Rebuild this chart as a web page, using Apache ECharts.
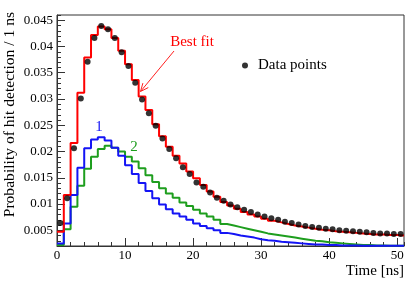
<!DOCTYPE html>
<html><head><meta charset="utf-8">
<script src="https://cdn.jsdelivr.net/npm/echarts@6/dist/echarts.min.js"></script>
<style>html,body{margin:0;padding:0;background:#fff}#c{width:415px;height:287px}</style>
</head><body><div id="c"></div>
<script>
// ---- data (1 ns bins starting at 0 ns) ----
const binStart = 0;
const binWidth = 1;
const dataPoints = [
  0.0064, 0.0111, 0.0206, 0.0301, 0.0371, 0.0416, 0.0439, 0.0433, 0.0416, 0.0389,
  0.0363, 0.0331, 0.0299, 0.0273, 0.0249, 0.0225, 0.0205, 0.0187, 0.0170, 0.0157,
  0.0141, 0.0133, 0.0122, 0.0112, 0.0106, 0.0099, 0.0094, 0.0089, 0.0085, 0.0080,
  0.0076, 0.0073, 0.0070, 0.0066, 0.0064, 0.0061, 0.0058, 0.0056, 0.0055, 0.0053,
  0.0052, 0.0050, 0.0049, 0.0048, 0.0047, 0.0046, 0.0045, 0.0044, 0.0044, 0.0043, 0.0043
];
const bestFit = [
  0.0047, 0.0117, 0.0216, 0.0312, 0.0379, 0.0422, 0.0438, 0.0433, 0.0416, 0.0392,
  0.0366, 0.0336, 0.0305, 0.0279, 0.0252, 0.0229, 0.0209, 0.0192, 0.0177, 0.0162,
  0.0149, 0.0136, 0.0124, 0.0114, 0.0104, 0.0097, 0.0091, 0.0085, 0.0080, 0.0076,
  0.0072, 0.0068, 0.0065, 0.0062, 0.0059, 0.0057, 0.0055, 0.0053, 0.0051, 0.0050,
  0.0048, 0.0047, 0.0046, 0.0045, 0.0044, 0.0043, 0.0042, 0.0042, 0.0041, 0.0041, 0.0040
];
const component1 = [
  0.0025, 0.0063, 0.0117, 0.0169, 0.0206, 0.0223, 0.0227, 0.0221, 0.0207, 0.0192,
  0.0174, 0.0157, 0.0140, 0.0125, 0.0111, 0.0099, 0.0090, 0.0082, 0.0076, 0.0070,
  0.0063, 0.0058, 0.0054, 0.0050, 0.0045, 0.0043, 0.0040, 0.0038, 0.0036, 0.0033,
  0.0031, 0.0030, 0.0028, 0.0027, 0.0026, 0.0025, 0.0024, 0.0023, 0.0023, 0.0022,
  0.0022, 0.0021, 0.0021, 0.0021, 0.00205, 0.00205, 0.00205, 0.00205, 0.00205, 0.00205, 0.00205
];
const component2 = [
  0.0022, 0.0052, 0.0095, 0.0135, 0.0167, 0.0190, 0.0205, 0.0211, 0.0207, 0.0200,
  0.0190, 0.0181, 0.0168, 0.0155, 0.0142, 0.0130, 0.0120, 0.0112, 0.0103, 0.0096,
  0.0089, 0.0082, 0.0076, 0.0070, 0.0062, 0.0059, 0.0056, 0.0053, 0.0050, 0.0047,
  0.0044, 0.0042, 0.0040, 0.0038, 0.0036, 0.0034, 0.0032, 0.0030, 0.0029, 0.0027,
  0.0026, 0.0025, 0.0024, 0.0023, 0.0022, 0.0022, 0.0021, 0.0021, 0.00205, 0.00205, 0.00205
];
const xTickLabels = ['0', '10', '20', '30', '40', '50'];
const yTickLabels = ['0.005', '0.01', '0.015', '0.02', '0.025', '0.03', '0.035', '0.04', '0.045'];

// ---- helpers ----
const FONT = '"Liberation Serif", "Times New Roman", serif';
const xMajor = xTickLabels.map(Number);
const yMajor = yTickLabels.map(Number);
function stepData(arr) {
  const d = arr.map((v, i) => [binStart + i * binWidth, v]);
  d.push([binStart + arr.length * binWidth, arr[arr.length - 1]]);
  return d;
}
const pointData = dataPoints.map((v, i) => [binStart + (i + 0.5) * binWidth, v]);
const lineCol = '#333';

const chart = echarts.init(document.getElementById('c'), null, {renderer: 'canvas'});

const arrowTip = [140.5, 91.5], arrowTail = [174, 51];
const dx = arrowTail[0] - arrowTip[0], dy = arrowTail[1] - arrowTip[1];
const L = Math.hypot(dx, dy), ux = dx / L, uy = dy / L;
const hl = 8, hw = 3.5;
const headPts = [
  [arrowTip[0] + ux * hl - uy * hw, arrowTip[1] + uy * hl + ux * hw],
  arrowTip,
  [arrowTip[0] + ux * hl + uy * hw, arrowTip[1] + uy * hl - ux * hw]
];

chart.setOption({
  animation: false,
  backgroundColor: '#fff',
  grid: {left: 57, top: 15, right: 11, bottom: 41, show: true, borderColor: lineCol, borderWidth: 1, backgroundColor: 'transparent'},
  xAxis: [
    {type: 'value', min: 0, max: 51, interval: 2, position: 'bottom',
     axisLine: {show: true, onZero: false, lineStyle: {color: lineCol, width: 1}},
     axisTick: {show: true, inside: true, length: 4, lineStyle: {color: lineCol}},
     axisLabel: {show: false}, splitLine: {show: false}},
    {type: 'value', min: 0, max: 51, interval: 2, position: 'bottom',
     axisLine: {show: false},
     axisTick: {show: true, inside: true, length: 8, customValues: xMajor, lineStyle: {color: lineCol}},
     axisLabel: {show: true, customValues: xMajor, margin: 3, fontFamily: FONT, fontSize: 13, color: '#000',
                 formatter: v => xTickLabels[xMajor.indexOf(Math.round(v))] || ''},
     splitLine: {show: false}}
  ],
  yAxis: [
    {type: 'value', min: 0.002, max: 0.046, interval: 0.001, position: 'left',
     axisLine: {show: true, onZero: false, lineStyle: {color: lineCol, width: 1}},
     axisTick: {show: true, inside: true, length: 4, lineStyle: {color: lineCol}},
     axisLabel: {show: false}, splitLine: {show: false}},
    {type: 'value', min: 0.002, max: 0.046, interval: 0.001, position: 'left',
     axisLine: {show: false},
     axisTick: {show: true, inside: true, length: 8, customValues: yMajor, lineStyle: {color: lineCol}},
     axisLabel: {show: true, customValues: yMajor, margin: 4, fontFamily: FONT, fontSize: 13, color: '#000',
                 formatter: v => String(+v.toFixed(3))},
     splitLine: {show: false}}
  ],
  legend: {
    data: ['Data points'], left: 242, top: 58, padding: 0, selectedMode: false,
    icon: 'circle', itemWidth: 16, itemHeight: 6, itemGap: 5,
    textStyle: {fontFamily: FONT, fontSize: 15, color: '#000'}
  },
  series: [
    {type: 'line', name: '2', step: 'end', data: stepData(component2), showSymbol: false, symbol: 'none',
     lineStyle: {color: '#1e9e1e', width: 2}, xAxisIndex: 0, yAxisIndex: 0, z: 2, silent: true},
    {type: 'line', name: '1', step: 'end', data: stepData(component1), showSymbol: false, symbol: 'none',
     lineStyle: {color: '#1414f5', width: 2}, xAxisIndex: 0, yAxisIndex: 0, z: 3, silent: true},
    {type: 'line', name: 'Best fit', step: 'end', data: stepData(bestFit), showSymbol: false, symbol: 'none',
     lineStyle: {color: '#ff0000', width: 2}, xAxisIndex: 0, yAxisIndex: 0, z: 4, silent: true},
    {type: 'scatter', name: 'Data points', data: pointData, symbol: 'circle', symbolSize: 6,
     itemStyle: {color: '#000'}, xAxisIndex: 0, yAxisIndex: 0, z: 5, silent: true}
  ],
  graphic: [
    {type: 'text', x: 10, y: 12, rotation: Math.PI / 2,
     style: {text: 'Probability of hit detection / 1 ns', font: '15.6px ' + FONT, fill: '#000', align: 'right', verticalAlign: 'middle'}},
    {type: 'text', x: 404, y: 271,
     style: {text: 'Time [ns]', font: '15px ' + FONT, fill: '#000', align: 'right', verticalAlign: 'middle'}},
    {type: 'text', x: 192, y: 42,
     style: {text: 'Best fit', font: '15px ' + FONT, fill: '#ff0000', align: 'center', verticalAlign: 'middle'}},
    {type: 'line', shape: {x1: arrowTail[0], y1: arrowTail[1], x2: arrowTip[0], y2: arrowTip[1]},
     style: {stroke: '#ff2020', lineWidth: 1}},
    {type: 'polyline', shape: {points: headPts}, style: {stroke: '#ff2020', lineWidth: 1, fill: null}},
    {type: 'text', x: 99, y: 127,
     style: {text: '1', font: '15px ' + FONT, fill: '#1414f5', align: 'center', verticalAlign: 'middle'}},
    {type: 'text', x: 134, y: 147,
     style: {text: '2', font: '15px ' + FONT, fill: '#1e9e1e', align: 'center', verticalAlign: 'middle'}}
  ]
});
</script>
</body></html>
